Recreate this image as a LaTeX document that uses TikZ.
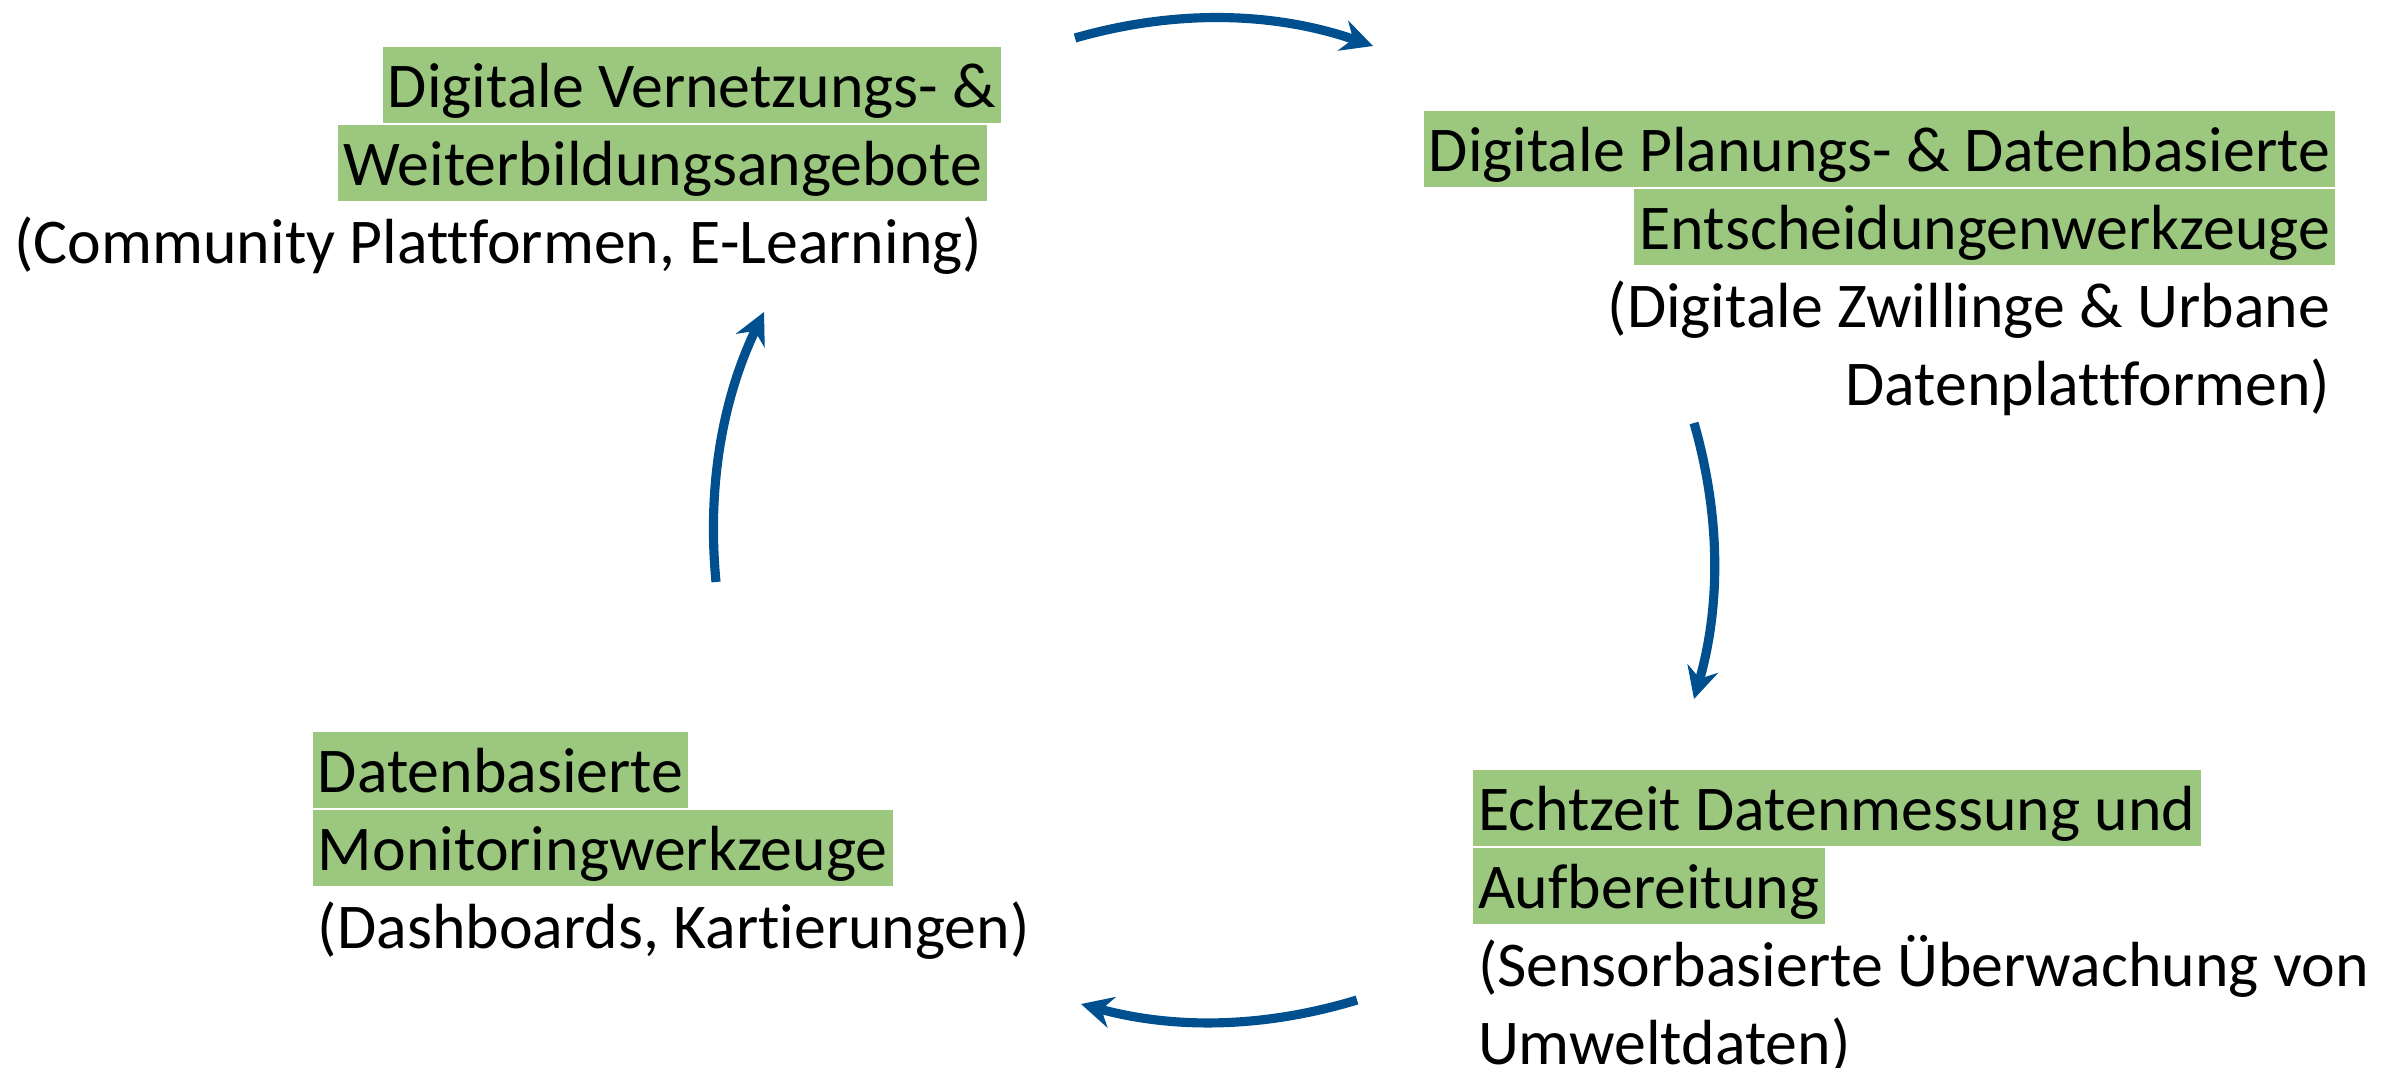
\documentclass[tikz,border=0pt]{standalone}
\usepackage{fontspec}
\setmainfont[Ligatures={NoCommon}]{Carlito}
\usetikzlibrary{arrows.meta}
\definecolor{markgruen}{HTML}{9BC77E}
\definecolor{pfeilblau}{HTML}{00508F}

\begin{document}
\begin{tikzpicture}
	\tikzstyle{zeile} = [inner xsep=1.5pt, inner ysep=0pt, text height=17.3pt, text depth=4.5pt, font=\fontsize{18.15pt}{22pt}\selectfont]
	\tikzstyle{markiert} = [zeile, fill=markgruen]
	\tikzstyle{pfeil} = [line width=2.6pt, draw=pfeilblau, -{Stealth[length=9pt,width=9pt,inset=3pt]}, looseness=0.9]
	
	\useasboundingbox (0,0) rectangle (23.97,10.67);
	
	% oben links
	\node (netz1) [markiert, anchor=north east, xshift=4pt] at (9.88,10.21) {Digitale Vernetzungs- \&\ };
	\node (netz2) [markiert, anchor=north east] at ([xshift=-4pt]netz1.south east) {Weiterbildungsangebote};
	\node (netz3) [zeile, anchor=north east] at (netz2.south east) {(Community Plattformen, E-Learning)};
	
	% oben rechts
	\node (plan1) [markiert, anchor=north east] at (23.36,9.57) {Digitale Planungs- \& Datenbasierte};
	\node (plan2) [markiert, anchor=north east] at (plan1.south east) {Entscheidungenwerkzeuge};
	\node (plan3) [zeile, anchor=north east] at (plan2.south east) {(Digitale Zwillinge \& Urbane};
	\node (plan4) [zeile, anchor=north east] at (plan3.south east) {Datenplattformen)};
	
	% unten rechts
	\node (mess1) [markiert, anchor=north west] at (14.72,2.98) {Echtzeit Datenmessung und\ };
	\node (mess2) [markiert, anchor=north west] at (mess1.south west) {Aufbereitung};
	\node (mess3) [zeile, anchor=north west] at (mess2.south west) {(Sensorbasierte Überwachung von};
	\node (mess4) [zeile, anchor=north west] at (mess3.south west) {Umweltdaten)};
	
	% unten links
	\node (moni1) [markiert, anchor=north west] at (3.12,3.36) {Datenbasierte\ };
	\node (moni2) [markiert, anchor=north west] at (moni1.south west) {Monitoringwerkzeuge};
	\node (moni3) [zeile, anchor=north west] at (moni2.south west) {(Dashboards, Kartierungen)};
	
	% Kreislauf
	\coordinate (oa) at (10.75,10.29);
	\coordinate (oe) at (13.73,10.21);
	\coordinate (ra) at (16.94,6.44);
	\coordinate (re) at (16.94,3.68);
	\coordinate (ua) at (13.57,0.67);
	\coordinate (ue) at (10.81,0.63);
	\coordinate (la) at (7.16,4.85);
	\coordinate (le) at (7.64,7.55);
	
	\draw [pfeil] (oa) to[bend left=17.5] (oe);
	\draw [pfeil] (ra) to[bend left=16] (re);
	\draw [pfeil] (ua) to[bend left=16] (ue);
	\draw [pfeil] (la) to[bend left=15.5] (le);
\end{tikzpicture}
\end{document}
